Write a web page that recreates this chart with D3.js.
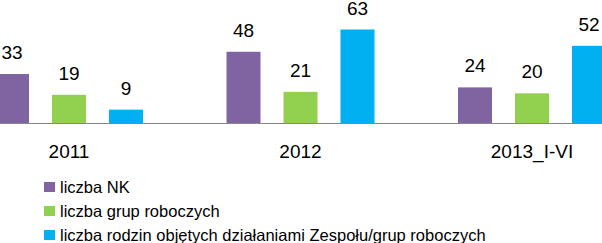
<!DOCTYPE html>
<html><head><meta charset="utf-8">
<script src="https://cdn.jsdelivr.net/npm/d3@7"></script>
<style>body{margin:0;background:#fff}svg{display:block}</style>
</head><body>
<script>
const categories = ["2011", "2012", "2013_I-VI"];
const seriesNames = ["liczba NK", "liczba grup roboczych", "liczba rodzin objętych działaniami Zespołu/grup roboczych"];
const nk = [33, 48, 24];
const grupy = [19, 21, 20];
const rodziny = [9, 63, 52];
const colors = ["#8064A2", "#92D050", "#00B0F0"];
const seriesValues = [nk, grupy, rodziny];

const W = 602, H = 243;
const svg = d3.select("body").append("svg").attr("width", W).attr("height", H);
const font = "'Liberation Sans', Arial, sans-serif";

const x0 = d3.scaleBand().domain(categories).range([-46.75, 647.75]).paddingInner(0).paddingOuter(0);
const x1 = d3.scaleBand().domain(d3.range(3)).range([41.75, 189.75]).paddingInner(23/57).paddingOuter(0);
const y = d3.scaleLinear().domain([0, 63]).range([123, 29.5]);

const g = svg.append("g");
categories.forEach((c, ci) => {
  const gg = g.append("g").attr("transform", `translate(${x0(c)},0)`);
  seriesValues.forEach((vals, si) => {
    gg.append("rect").attr("x", x1(si)).attr("width", x1.bandwidth())
      .attr("y", y(vals[ci])).attr("height", y(0) - y(vals[ci])).attr("fill", colors[si]);
    gg.append("text").attr("x", x1(si) + x1.bandwidth()/2).attr("y", y(vals[ci]) - 15)
      .attr("text-anchor", "middle").attr("font-family", font).attr("font-size", 19)
      .attr("fill", "#000").text(vals[ci]);
  });
});

// baseline axis
const axis = d3.axisBottom(x0).tickSize(0).tickPadding(0);
const ax = svg.append("g").attr("transform", `translate(0,${y(0)})`).call(axis);
ax.select(".domain").remove();
svg.append("line").attr("x1", 0).attr("x2", W).attr("y1", y(0) + 0.5).attr("y2", y(0) + 0.5)
  .attr("stroke", "#868686").attr("stroke-width", 1);
ax.selectAll(".tick text").attr("font-family", font).attr("font-size", 19).attr("fill", "#000")
  .attr("dy", null).attr("y", 35);

// legend
const lg = svg.append("g");
seriesNames.forEach((n, i) => {
  const by = 193 + i * 24;
  lg.append("rect").attr("x", 44).attr("y", by - 11).attr("width", 11).attr("height", 10).attr("fill", colors[i]);
  lg.append("text").attr("x", 60).attr("y", by).attr("font-family", font).attr("font-size", 16.5)
    .attr("fill", "#000").text(n);
});
</script>
</body></html>
